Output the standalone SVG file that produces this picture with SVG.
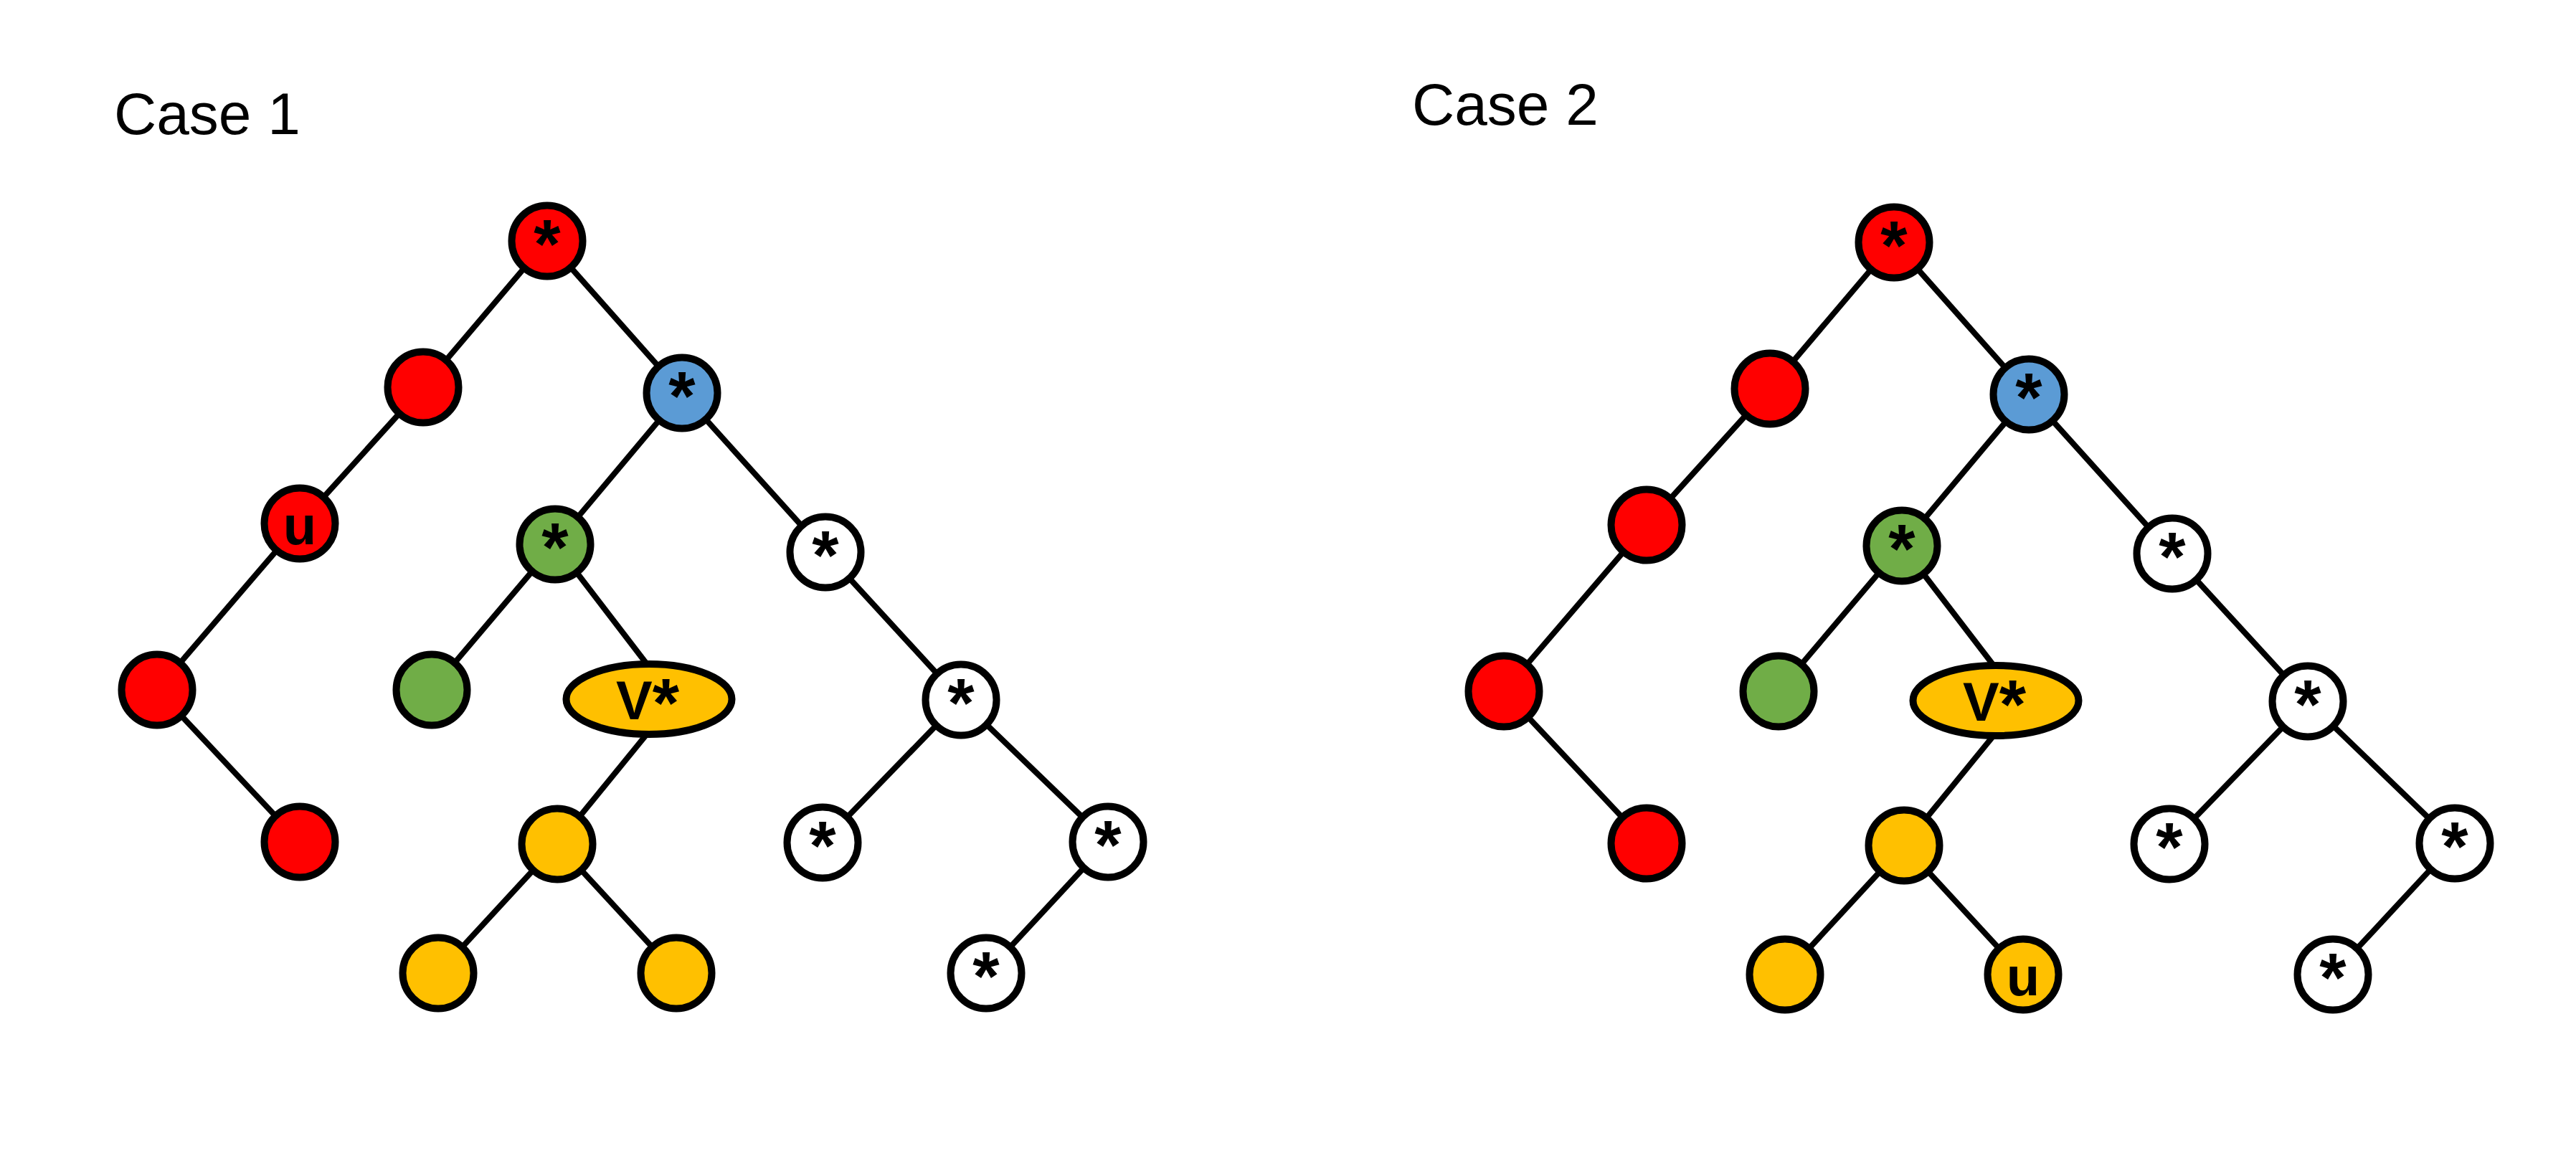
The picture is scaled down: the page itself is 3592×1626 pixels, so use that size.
<svg xmlns="http://www.w3.org/2000/svg" width="3592" height="1626" viewBox="0 0 3592 1626">
<style>
.bg{fill:#ffffff}
.edge{stroke:#000;stroke-width:8;fill:none}
.n{stroke:#000;stroke-width:10}
.red{fill:#FF0000}
.blue{fill:#5B9BD5}
.green{fill:#70AD47}
.yellow{fill:#FFC000}
.white{fill:#FFFFFF}
.lbl{font-family:"Liberation Sans",Arial,sans-serif;font-weight:bold;font-size:76px;text-anchor:middle;fill:#000}
.ast{font-family:"Liberation Sans",Arial,sans-serif;font-weight:bold;font-size:96px;text-anchor:middle;fill:#000}
.title{font-family:"Liberation Sans",Arial,sans-serif;font-size:82px;fill:#000}
</style>
<rect class="bg" x="0" y="0" width="3592" height="1626"/>
<text class="title" x="159" y="187">Case 1</text>
<text class="title" x="1969" y="174">Case 2</text>
<g id="connectors">
  <g id="edges-case1">
    <line class="edge" x1="763" y1="336" x2="590" y2="540"/>
    <line class="edge" x1="763" y1="336" x2="951" y2="548"/>
    <line class="edge" x1="590" y1="540" x2="418" y2="730"/>
    <line class="edge" x1="418" y1="730" x2="219" y2="962"/>
    <line class="edge" x1="219" y1="962" x2="418" y2="1174"/>
    <line class="edge" x1="951" y1="548" x2="774" y2="759"/>
    <line class="edge" x1="951" y1="548" x2="1151" y2="770"/>
    <line class="edge" x1="774" y1="759" x2="602" y2="962"/>
    <line class="edge" x1="774" y1="759" x2="905" y2="930"/>
    <line class="edge" x1="905" y1="1020" x2="777" y2="1177"/>
    <line class="edge" x1="777" y1="1177" x2="611" y2="1357"/>
    <line class="edge" x1="777" y1="1177" x2="943" y2="1357"/>
    <line class="edge" x1="1151" y1="770" x2="1340" y2="976"/>
    <line class="edge" x1="1340" y1="976" x2="1147" y2="1175"/>
    <line class="edge" x1="1340" y1="976" x2="1545" y2="1174"/>
    <line class="edge" x1="1545" y1="1174" x2="1375" y2="1357"/>
  </g>
  <g id="edges-case2" transform="translate(1878,2)">
    <line class="edge" x1="763" y1="336" x2="590" y2="540"/>
    <line class="edge" x1="763" y1="336" x2="951" y2="548"/>
    <line class="edge" x1="590" y1="540" x2="418" y2="730"/>
    <line class="edge" x1="418" y1="730" x2="219" y2="962"/>
    <line class="edge" x1="219" y1="962" x2="418" y2="1174"/>
    <line class="edge" x1="951" y1="548" x2="774" y2="759"/>
    <line class="edge" x1="951" y1="548" x2="1151" y2="770"/>
    <line class="edge" x1="774" y1="759" x2="602" y2="962"/>
    <line class="edge" x1="774" y1="759" x2="905" y2="930"/>
    <line class="edge" x1="905" y1="1020" x2="777" y2="1177"/>
    <line class="edge" x1="777" y1="1177" x2="611" y2="1357"/>
    <line class="edge" x1="777" y1="1177" x2="943" y2="1357"/>
    <line class="edge" x1="1151" y1="770" x2="1340" y2="976"/>
    <line class="edge" x1="1340" y1="976" x2="1147" y2="1175"/>
    <line class="edge" x1="1340" y1="976" x2="1545" y2="1174"/>
    <line class="edge" x1="1545" y1="1174" x2="1375" y2="1357"/>
  </g>
</g>
<g id="case1">
  <g id="c1-root"><circle class="n red" cx="763" cy="336" r="49.5"/><text class="ast" x="763" y="373">*</text></g>
  <g id="c1-a"><circle class="n red" cx="590" cy="540" r="49.5"/></g>
  <g id="c1-b"><circle class="n blue" cx="951" cy="548" r="49.5"/><text class="ast" x="951" y="585">*</text></g>
  <g id="c1-c"><circle class="n red" cx="418" cy="730" r="49.5"/><text class="lbl" x="418" y="759">u</text></g>
  <g id="c1-d"><circle class="n green" cx="774" cy="759" r="49.5"/><text class="ast" x="774" y="796">*</text></g>
  <g id="c1-e"><circle class="n white" cx="1151" cy="770" r="49.5"/><text class="ast" x="1151" y="807">*</text></g>
  <g id="c1-f"><circle class="n red" cx="219" cy="962" r="49.5"/></g>
  <g id="c1-g"><circle class="n green" cx="602" cy="962" r="49.5"/></g>
  <g id="c1-h"><ellipse class="n yellow" cx="905" cy="975" rx="115.5" ry="49"/><text class="lbl" x="903" y="1003">V<tspan style="font-size:96px" dy="10">*</tspan></text></g>
  <g id="c1-i"><circle class="n white" cx="1340" cy="976" r="49.5"/><text class="ast" x="1340" y="1013">*</text></g>
  <g id="c1-j"><circle class="n red" cx="418" cy="1174" r="49.5"/></g>
  <g id="c1-k"><circle class="n yellow" cx="777" cy="1177" r="49.5"/></g>
  <g id="c1-l"><circle class="n white" cx="1147" cy="1175" r="49.5"/><text class="ast" x="1147" y="1212">*</text></g>
  <g id="c1-m"><circle class="n white" cx="1545" cy="1174" r="49.5"/><text class="ast" x="1545" y="1211">*</text></g>
  <g id="c1-n"><circle class="n yellow" cx="611" cy="1357" r="49.5"/></g>
  <g id="c1-o"><circle class="n yellow" cx="943" cy="1357" r="49.5"/></g>
  <g id="c1-p"><circle class="n white" cx="1375" cy="1357" r="49.5"/><text class="ast" x="1375" y="1394">*</text></g>
</g>
<g id="case2" transform="translate(1878,2)">
  <g id="c2-root"><circle class="n red" cx="763" cy="336" r="49.5"/><text class="ast" x="763" y="373">*</text></g>
  <g id="c2-a"><circle class="n red" cx="590" cy="540" r="49.5"/></g>
  <g id="c2-b"><circle class="n blue" cx="951" cy="548" r="49.5"/><text class="ast" x="951" y="585">*</text></g>
  <g id="c2-c"><circle class="n red" cx="418" cy="730" r="49.5"/></g>
  <g id="c2-d"><circle class="n green" cx="774" cy="759" r="49.5"/><text class="ast" x="774" y="796">*</text></g>
  <g id="c2-e"><circle class="n white" cx="1151" cy="770" r="49.5"/><text class="ast" x="1151" y="807">*</text></g>
  <g id="c2-f"><circle class="n red" cx="219" cy="962" r="49.5"/></g>
  <g id="c2-g"><circle class="n green" cx="602" cy="962" r="49.5"/></g>
  <g id="c2-h"><ellipse class="n yellow" cx="905" cy="975" rx="115.5" ry="49"/><text class="lbl" x="903" y="1003">V<tspan style="font-size:96px" dy="10">*</tspan></text></g>
  <g id="c2-i"><circle class="n white" cx="1340" cy="976" r="49.5"/><text class="ast" x="1340" y="1013">*</text></g>
  <g id="c2-j"><circle class="n red" cx="418" cy="1174" r="49.5"/></g>
  <g id="c2-k"><circle class="n yellow" cx="777" cy="1177" r="49.5"/></g>
  <g id="c2-l"><circle class="n white" cx="1147" cy="1175" r="49.5"/><text class="ast" x="1147" y="1212">*</text></g>
  <g id="c2-m"><circle class="n white" cx="1545" cy="1174" r="49.5"/><text class="ast" x="1545" y="1211">*</text></g>
  <g id="c2-n"><circle class="n yellow" cx="611" cy="1357" r="49.5"/></g>
  <g id="c2-o"><circle class="n yellow" cx="943" cy="1357" r="49.5"/><text class="lbl" x="943" y="1386">u</text></g>
  <g id="c2-p"><circle class="n white" cx="1375" cy="1357" r="49.5"/><text class="ast" x="1375" y="1394">*</text></g>
</g>
</svg>
